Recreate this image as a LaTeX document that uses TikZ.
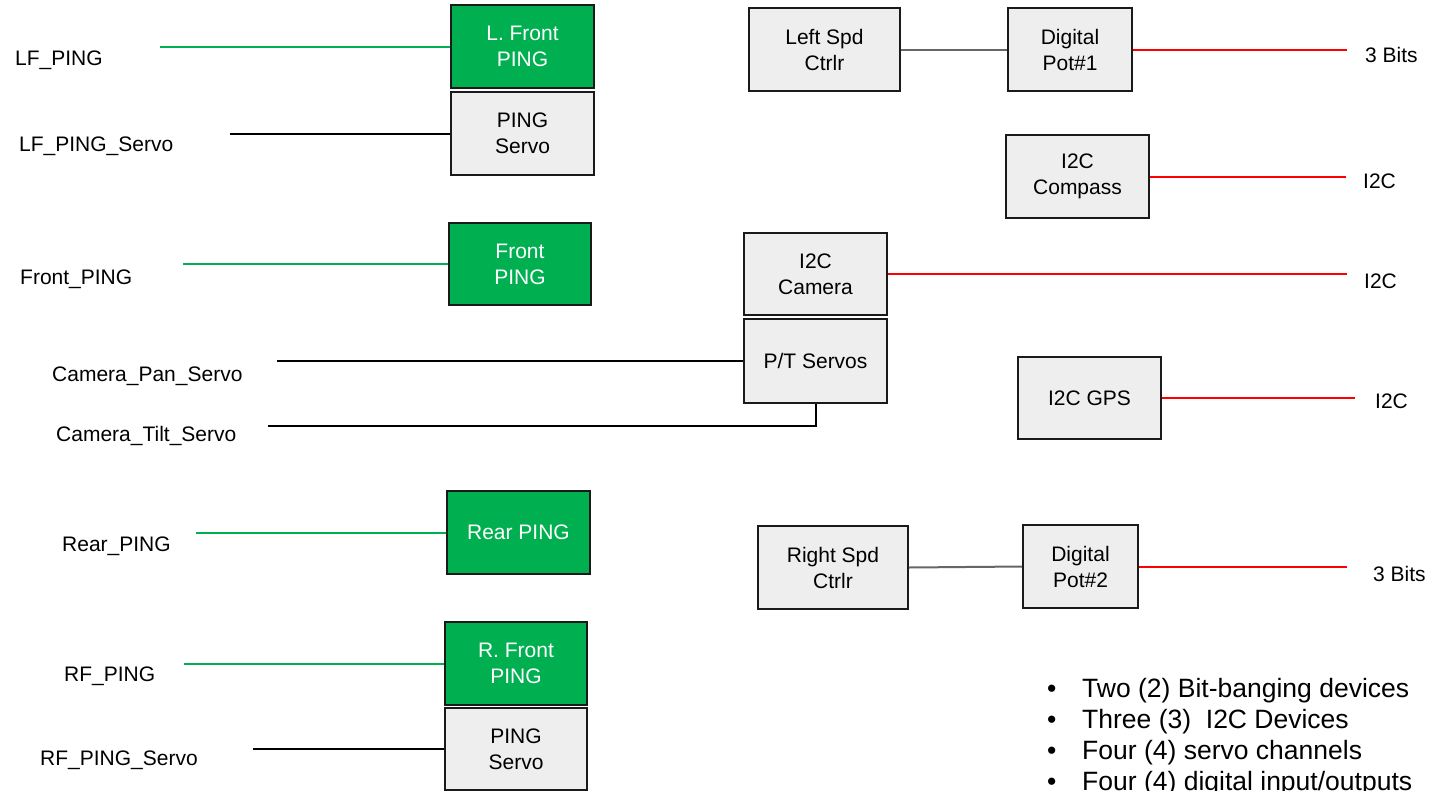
\documentclass[tikz,border=0pt]{standalone}
\usepackage{fontspec}
\setmainfont{Liberation Sans}
\definecolor{pinggreen}{HTML}{00B050}
\definecolor{boxgray}{HTML}{EEEEEE}
\definecolor{boxline}{HTML}{1A1A1A}
\definecolor{linkgray}{HTML}{666666}
\definecolor{busred}{HTML}{FF0000}
\begin{document}
\begin{tikzpicture}[x=1pt,y=-1pt,
  dev/.style={draw=boxline, line width=1.8pt, fill=boxgray, inner sep=0pt,
    align=center, font=\fontsize{21}{26}\selectfont, text=black},
  gdev/.style={dev, fill=pinggreen, text=white},
  lbl/.style={anchor=base west, inner sep=0pt, font=\fontsize{21}{26}\selectfont},
  bul/.style={anchor=base west, inner sep=0pt, font=\fontsize{26.5}{31}\selectfont},
  gwire/.style={draw=pinggreen, line width=2pt},
  kwire/.style={draw=black, line width=2pt},
  rwire/.style={draw=busred, line width=2pt},
  swire/.style={draw=linkgray, line width=2pt}]
\useasboundingbox (0,0) rectangle (1432,790);
\clip (0,0) rectangle (1432,790);
\fill[white] (0,0) rectangle (1432,790);

% left column boxes
\node[gdev, minimum width=143pt, minimum height=83pt] (lfping) at (522.5,46.5) {L. Front\\PING};
\node[dev, minimum width=143pt, minimum height=83pt] (lfservo) at (522.5,133.5) {PING\\Servo};
\node[gdev, minimum width=142pt, minimum height=82pt] (fping) at (520,264) {Front\\PING};
\node[gdev, minimum width=143pt, minimum height=83pt] (rear) at (518.5,532.5) {Rear PING};
\node[gdev, minimum width=142pt, minimum height=83pt] (rf) at (516,663.5) {R. Front\\PING};
\node[dev, minimum width=142pt, minimum height=82pt] (rfservo) at (516,749) {PING\\Servo};

% middle boxes
\node[dev, minimum width=143pt, minimum height=82pt] (camera) at (815.5,274) {I2C\\Camera};
\node[dev, minimum width=143pt, minimum height=84pt] (pt) at (815.5,361) {P/T Servos};
\node[dev, minimum width=151pt, minimum height=83pt] (leftspd) at (824.5,49.5) {Left Spd\\Ctrlr};
\node[dev, minimum width=150pt, minimum height=83pt] (rightspd) at (833,567.5) {Right Spd\\Ctrlr};

% right boxes
\node[dev, minimum width=124pt, minimum height=83pt] (pot1) at (1070,49.5) {Digital\\Pot\#1};
\node[dev, minimum width=143pt, minimum height=83pt] (compass) at (1077.5,176.5) {I2C\\Compass};
\node[dev, minimum width=143pt, minimum height=82pt] (gps) at (1089.5,398) {I2C GPS};
\node[dev, minimum width=115pt, minimum height=83pt] (pot2) at (1080.5,566.5) {Digital\\Pot\#2};

% left labels
\node[lbl] (tlfping) at (15,65) {LF\_PING};
\node[lbl] (tlfservo) at (19,151) {LF\_PING\_Servo};
\node[lbl] (tfping) at (20,284) {Front\_PING};
\node[lbl] (tpan) at (52,381) {Camera\_Pan\_Servo};
\node[lbl] (ttilt) at (56,441) {Camera\_Tilt\_Servo};
\node[lbl] (trear) at (62,551) {Rear\_PING};
\node[lbl] (trf) at (64,681) {RF\_PING};
\node[lbl] (trfservo) at (40,765) {RF\_PING\_Servo};

% right labels
\node[lbl] (tbits1) at (1365,62) {3 Bits};
\node[lbl] (ti2c1) at (1363,188) {I2C};
\node[lbl] (ti2c2) at (1364,288) {I2C};
\node[lbl] (ti2c3) at (1375,408) {I2C};
\node[lbl] (tbits2) at (1373,581) {3 Bits};

% wire ends
\coordinate (elfping) at (160,46.5);
\coordinate (elfservo) at (230,133.5);
\coordinate (efping) at (183,264);
\coordinate (epan) at (277,361);
\coordinate (etilt) at (268,426);
\coordinate (erear) at (196,532.5);
\coordinate (erf) at (184,663.5);
\coordinate (erfservo) at (253,749);
\coordinate (ebits1) at (1347,49.5);
\coordinate (ei2c1) at (1346,176.5);
\coordinate (ei2c2) at (1347,274);
\coordinate (ei2c3) at (1355,398);
\coordinate (ebits2) at (1347,566.5);

% wires
\draw[gwire] (elfping) -- (lfping.west);
\draw[kwire] (elfservo) -- (lfservo.west);
\draw[gwire] (efping) -- (fping.west);
\draw[kwire] (epan) -- (pt.west);
\draw[kwire] (etilt) -| (pt.south);
\draw[gwire] (erear) -- (rear.west);
\draw[gwire] (erf) -- (rf.west);
\draw[kwire] (erfservo) -- (rfservo.west);
\draw[swire] (leftspd.east) -- (pot1.west);
\draw[swire] (rightspd.east) -- (pot2.west);
\draw[rwire] (pot1.east) -- (ebits1);
\draw[rwire] (compass.east) -- (ei2c1);
\draw[rwire] (camera.east) -- (ei2c2);
\draw[rwire] (gps.east) -- (ei2c3);
\draw[rwire] (pot2.east) -- (ebits2);

% bullet list
\node[bul] (b1) at (1047,697) {\makebox[35pt][l]{•}Two (2) Bit-banging devices};
\node[bul] (b2) at (1047,728) {\makebox[35pt][l]{•}Three (3)\ \ I2C Devices};
\node[bul] (b3) at (1047,759) {\makebox[35pt][l]{•}Four (4) servo channels};
\node[bul] (b4) at (1047,790) {\makebox[35pt][l]{•}Four (4) digital input/outputs};
\end{tikzpicture}
\end{document}
